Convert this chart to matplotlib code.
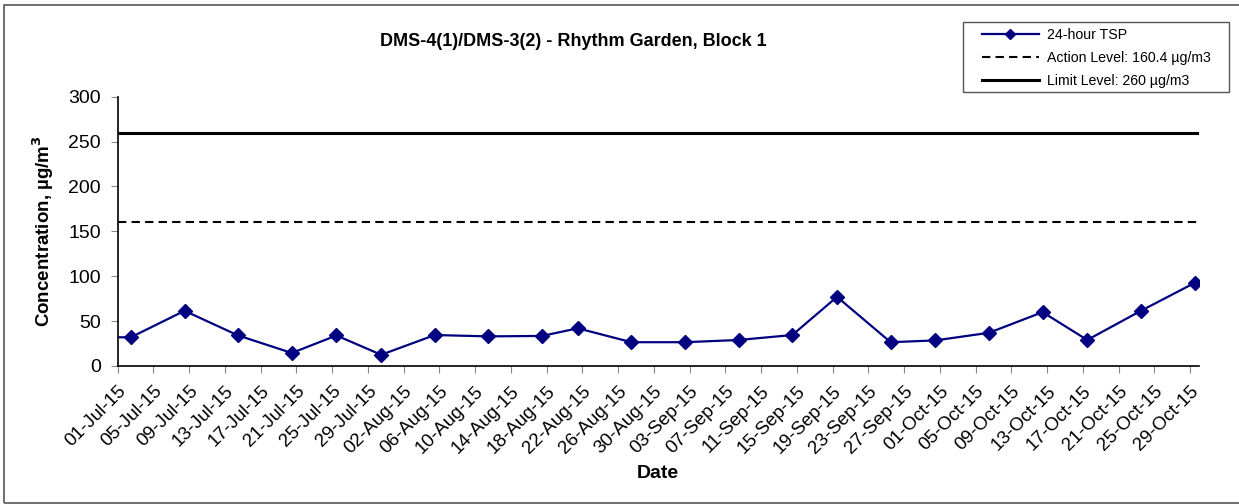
import matplotlib.pyplot as plt
import matplotlib.dates as mdates
import matplotlib.patches as patches
import numpy as np
import pandas as pd

plt.rcParams['font.family'] = ['Liberation Sans', 'DejaVu Sans']

# 24-hour TSP results (first point is from the previous period, clipped by the axis)
sample_dates = ['2015-06-26', '2015-07-02', '2015-07-08', '2015-07-14', '2015-07-20',
                '2015-07-25', '2015-07-30', '2015-08-05', '2015-08-11', '2015-08-17',
                '2015-08-21', '2015-08-27', '2015-09-02', '2015-09-08', '2015-09-14',
                '2015-09-19', '2015-09-25', '2015-09-30', '2015-10-06', '2015-10-12',
                '2015-10-17', '2015-10-23', '2015-10-29']
tsp = [32, 32, 61.5, 34, 14.5, 34, 12.5, 34.5, 33, 33.5,
       42, 26.5, 26.5, 29, 34.5, 77, 26.5, 28.5, 37, 60,
       29, 61.5, 92.5]
action_level = 160.4
limit_level = 260
tick_dates = pd.date_range('2015-07-01', '2015-10-29', freq='4D')

fig = plt.figure(figsize=(12.39, 5.04), dpi=100)
W, H = 1239, 504
ax = fig.add_axes([117.5 / W, 1 - 366 / H, (1199 - 117.5) / W, (366 - 96.7) / H])

# outer chart frame
fig.patches.append(patches.Rectangle((4 / W, 1 - 502.5 / H), 1.2, (502.5 - 4.5) / H,
                                     transform=fig.transFigure, fill=False,
                                     edgecolor='#555555', linewidth=1.2))
# legend frame
fig.patches.append(patches.Rectangle((963 / W, 1 - 91.5 / H), (1229 - 963) / W, (91.5 - 22) / H,
                                     transform=fig.transFigure, fill=False,
                                     edgecolor='#555555', linewidth=1.0))

x = pd.to_datetime(sample_dates) + pd.Timedelta(hours=12)
ax.plot(x, tsp, color='#000080', marker='D', markersize=7, linewidth=1.6,
        label='24-hour TSP', clip_on=True)
ax.axhline(action_level, color='black', linestyle=(0, (4, 2.5)), linewidth=1.5,
           label='Action Level: 160.4 µg/m3')
ax.axhline(limit_level, color='black', linewidth=2.2, label='Limit Level: 260 µg/m3')

ax.set_xlim(pd.Timestamp('2015-07-01'), pd.Timestamp('2015-10-30'))
ax.set_ylim(0, 300)
ax.set_yticks(np.arange(0, 301, 50))
ax.set_xticks(tick_dates)
ax.xaxis.set_major_formatter(mdates.DateFormatter('%d-%b-%y'))
ax.tick_params(axis='y', labelsize=14, length=5, color='#888888', pad=7)
ax.tick_params(axis='x', labelsize=13.5, length=5, color='#888888', pad=7)
for lab in ax.get_xticklabels():
    lab.set_rotation(45)
    lab.set_ha('right')
    lab.set_rotation_mode('anchor')

for s in ['top', 'right']:
    ax.spines[s].set_visible(False)
for s in ['left', 'bottom']:
    ax.spines[s].set_linewidth(1.2)

ax.set_ylabel('Concentration, µg/m$^\\mathbf{3}$', fontsize=13.5, fontweight='bold', labelpad=9)
ax.set_xlabel('Date', fontsize=14, fontweight='bold', labelpad=6)
fig.text(573 / W, 1 - 42 / H, 'DMS-4(1)/DMS-3(2) - Rhythm Garden, Block 1',
         ha='center', va='center', fontsize=13, fontweight='bold')

leg = fig.legend(loc='upper left', bbox_to_anchor=(982 / W, 1 - 28 / H), fontsize=10.2,
                 frameon=False, handlelength=4.0, borderpad=0, labelspacing=0.62,
                 handletextpad=0.6, borderaxespad=0)
leg.get_lines()[0].set_markersize(5)

fig.savefig('out.png', dpi=100)
